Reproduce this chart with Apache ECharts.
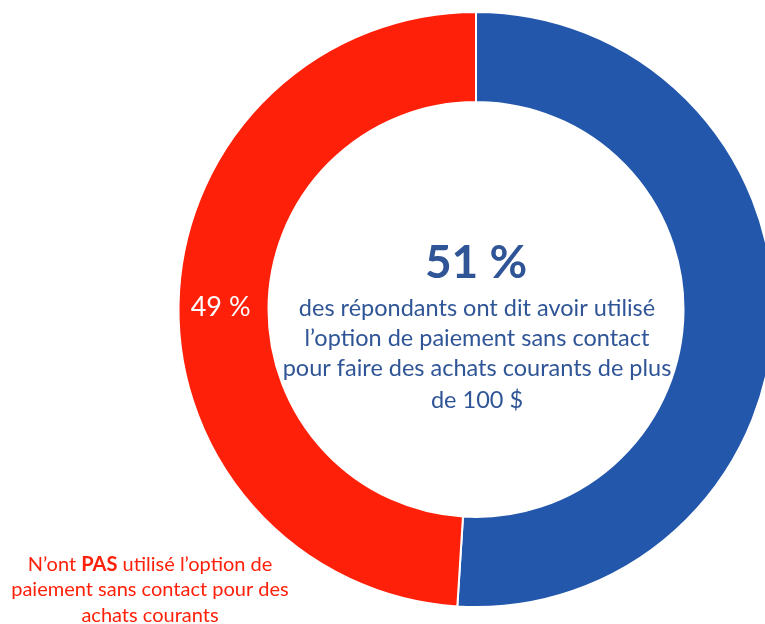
<!DOCTYPE html>
<html><head><meta charset="utf-8">
<script src="https://cdn.jsdelivr.net/npm/echarts@6/dist/echarts.min.js"></script>
<style>html,body{margin:0;padding:0;background:#fff}#c{width:765px;height:624px}</style>
</head><body><div id="c"></div>
<script>
const categories = ['Ont utilisé', "N'ont PAS utilisé"];
const values = [51, 49];
const colors = ['#2257AB', '#FF200A'];
const centerLines = ['des répondants ont dit avoir utilisé', 'l\u2019option de paiement sans contact', 'pour faire des achats courants de plus', 'de 100 $'];
const redNoteLines = [['N\u2019ont ', 'PAS', ' utilisé l\u2019option de'], ['paiement sans contact pour des'], ['achats courants']];

const chart = echarts.init(document.getElementById('c'), null, {renderer: 'canvas'});
const FONT = 'Lato';
const textBlue = '#2F5597';
const textRed = '#FF200A';

const g = [];
g.push({type: 'text', x: 476, y: 263, style: {text: values[0] + ' %', font: 'bold 46px ' + FONT, fill: textBlue, align: 'center', verticalAlign: 'middle'}});
const lineYs = [308, 338, 368, 400];
centerLines.forEach((t, i) => g.push({type: 'text', x: 477, y: lineYs[i], style: {text: t, font: '23.5px ' + FONT, fill: textBlue, align: 'center', verticalAlign: 'middle'}}));
const noteYs = [565, 590, 616];
redNoteLines.forEach((parts, i) => {
  const txt = parts.map((p, j) => (p === 'PAS' ? '{b|' + p + '}' : '{n|' + p + '}')).join('');
  g.push({type: 'text', x: 150, y: noteYs[i], style: {text: txt, align: 'center', verticalAlign: 'middle',
    rich: {n: {font: '20px ' + FONT, fill: textRed, color: textRed}, b: {font: 'bold 20px ' + FONT, fill: textRed, color: textRed}}}});
});

chart.setOption({
  animation: false,
  backgroundColor: '#fff',
  series: [{
    type: 'pie',
    center: [476, 309.5],
    radius: [207.5, 297.5],
    startAngle: 90,
    clockwise: true,
    silent: true,
    itemStyle: {borderColor: '#fff', borderWidth: 2},
    labelLine: {show: false},
    data: categories.map((c, i) => ({
      name: c, value: values[i],
      itemStyle: {color: colors[i]},
      label: i === 1 ? {show: true, position: 'inside', formatter: '{e|}\n{v|{c} %}', rich: {e: {height: 12, lineHeight: 12}, v: {color: '#fff', fontFamily: FONT, fontSize: 27, lineHeight: 32}}} : {show: false}
    }))
  }],
  graphic: g
});
</script></body></html>
